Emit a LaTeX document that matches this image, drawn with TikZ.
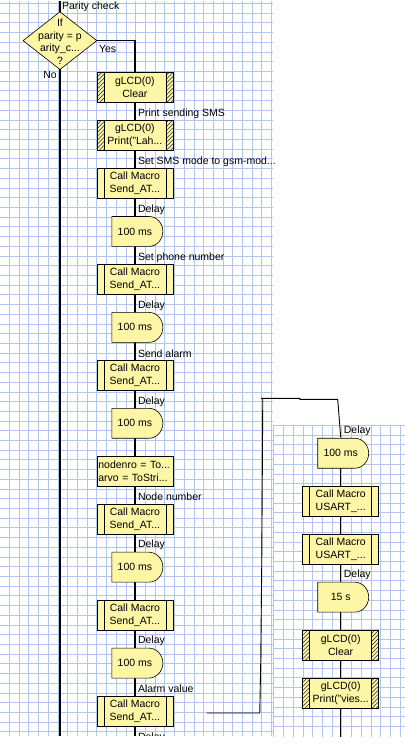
\documentclass[tikz,border=0pt]{standalone}
\usepackage{fontspec}
\setmainfont{Liberation Sans}
\usetikzlibrary{shapes.geometric,patterns.meta}
\pgfdeclarelayer{gridlayer}
\pgfdeclarelayer{linelayer}
\pgfsetlayers{gridlayer,linelayer,main}
\definecolor{boxyel}{RGB}{252,246,166}
\definecolor{gridblue}{RGB}{178,196,240}
\tikzset{
  hatchstrip/.style={pattern={Lines[angle=45,distance=2.8pt,line width=0.5pt]},pattern color=black!85},
}
\begin{document}
\begin{tikzpicture}[x=1pt,y=-1pt,
  every node/.style={font=\fontsize{10.5}{13}\selectfont, inner sep=0pt},
  lbl/.style={anchor=west},
  flow/.style={line width=1.3pt, black},
  hand/.style={line width=0.9pt, black},
  gridline/.style={line width=0.6pt, gridblue},
  basebox/.style={rectangle, draw=black, fill=boxyel, line width=0.6pt,
     minimum width=76pt, minimum height=30pt, align=center},
  macrobox/.style={basebox,
     path picture={
       \draw[line width=0.6pt] ([shift={(7,0)}]path picture bounding box.north west) -- ([shift={(7,0)}]path picture bounding box.south west);
       \draw[line width=0.6pt] ([shift={(-7,0)}]path picture bounding box.north east) -- ([shift={(-7,0)}]path picture bounding box.south east);}},
  lcdbox/.style={basebox,
     path picture={
       \fill[hatchstrip] (path picture bounding box.north west) rectangle ([shift={(7,0)}]path picture bounding box.south west);
       \fill[hatchstrip] (path picture bounding box.north east) rectangle ([shift={(-7,0)}]path picture bounding box.south east);
       \draw[line width=0.6pt] ([shift={(7,0)}]path picture bounding box.north west) -- ([shift={(7,0)}]path picture bounding box.south west);
       \draw[line width=0.6pt] ([shift={(-7,0)}]path picture bounding box.north east) -- ([shift={(-7,0)}]path picture bounding box.south east);}},
  calcbox/.style={basebox, align=left, text width=73pt},
  delaybox/.style={rectangle, minimum width=58pt, minimum height=32pt, align=center,
     path picture={
       \filldraw[fill=boxyel, draw=black, line width=0.6pt]
         ([shift={(-23,-15)}]path picture bounding box.center) -- ++(37,0)
         arc[start angle=-90, end angle=90, x radius=14, y radius=15]
         -- ++(-37,0) -- cycle;}},
  decision/.style={diamond, draw=black, fill=boxyel, line width=0.6pt,
     minimum width=74pt, minimum height=58pt, inner sep=0pt},
]
% ---------- background and grids ----------
\begin{pgfonlayer}{gridlayer}
  \fill[white] (0,0) rectangle (405,744);
  \useasboundingbox (0,0) rectangle (405,744);
  \foreach \i in {0,...,27} {\draw[gridline] ({9.3+9.72*\i},0) -- ({9.3+9.72*\i},736);}
  \foreach \j in {0,...,75} {\draw[gridline] (0,{2.7+9.72*\j}) -- (273,{2.7+9.72*\j});}
  \foreach \i in {0,...,13} {\draw[gridline] ({274+9.72*\i},425) -- ({274+9.72*\i},737);}
  \foreach \j in {0,...,31} {\draw[gridline] (273,{425+9.72*\j}) -- (405,{425+9.72*\j});}
\end{pgfonlayer}

% ---------- decision ----------
\node[decision] (dec) at (60,40) {};
\node[align=center, font=\fontsize{10.5}{12.7}\selectfont] (dectext) at (60,41) {If\\parity = p\\arity\_c...\\?};
\node[lbl] (lpar) at (62,6) {Parity check};
\node[lbl] (lyes) at (99,48) {Yes};
\node[anchor=east] (lno) at (57,74) {No};
\coordinate (topin) at (60,0);
\coordinate (bottomout) at (60,736);

% ---------- left column ----------
\node[lcdbox]   (g1) at (135,87)  {gLCD(0)\\Clear};
\node[lcdbox]   (g2) at (135,135) {gLCD(0)\\Print("Lah...};
\node[macrobox] (m1) at (135,183) {Call Macro\\Send\_AT...};
\node[delaybox] (d1) at (135,231) {100 ms};
\node[macrobox] (m2) at (135,279) {Call Macro\\Send\_AT...};
\node[delaybox] (d2) at (135,327) {100 ms};
\node[macrobox] (m3) at (135,375) {Call Macro\\Send\_AT...};
\node[delaybox] (d3) at (135,423) {100 ms};
\node[calcbox]  (c1) at (135,471) {nodenro = To...\\arvo = ToStri...};
\node[macrobox] (m4) at (135,519) {Call Macro\\Send\_AT...};
\node[delaybox] (d4) at (135,567) {100 ms};
\node[macrobox] (m5) at (135,615) {Call Macro\\Send\_AT...};
\node[delaybox] (d5) at (135,663) {100 ms};
\node[macrobox] (m6) at (135,711) {Call Macro\\Send\_AT...};
\coordinate (leftend) at (135,736);

\node[lbl] (l1)  at (138,113) {Print sending SMS};
\node[lbl] (l2)  at (138,161) {Set SMS mode to gsm-mod...};
\node[lbl] (l3)  at (138,209) {Delay};
\node[lbl] (l4)  at (138,257) {Set phone number};
\node[lbl] (l5)  at (138,305) {Delay};
\node[lbl] (l6)  at (138,353) {Send alarm};
\node[lbl] (l7)  at (138,401) {Delay};
\node[lbl] (l8)  at (138,497) {Node number};
\node[lbl] (l9)  at (138,545) {Delay};
\node[lbl] (l10) at (138,641) {Delay};
\node[lbl] (l11) at (138,689) {Alarm value};
\begin{scope}
  \clip (0,0) rectangle (273,735.5);
  \node[lbl] (l12) at (138,738) {Delay};
\end{scope}

% ---------- right column ----------
\node[delaybox] (rd1) at (341,453) {100 ms};
\node[macrobox] (rm1) at (341,501) {Call Macro\\USART\_...};
\node[macrobox] (rm2) at (341,549) {Call Macro\\USART\_...};
\node[delaybox] (rd2) at (341,597) {15 s};
\node[lcdbox]   (rg1) at (341,645) {gLCD(0)\\Clear};
\node[lcdbox]   (rg2) at (341,693) {gLCD(0)\\Print("vies...};
\coordinate (rightend) at (341,737);
\node[lbl] (rl1) at (344,431) {Delay};
\node[lbl] (rl2) at (344,575) {Delay};

% ---------- connectors ----------
\begin{pgfonlayer}{linelayer}
  \draw[flow] (topin) -- (dec.center) -- (bottomout);
  \draw[flow] (dec.center) -- (dec.center -| g1.center) -- (g1.center);
  \draw[flow] (g1.center) -- (g2.center) -- (m1.center) -- (d1.center) -- (m2.center)
    -- (d2.center) -- (m3.center) -- (d3.center) -- (c1.center) -- (m4.center)
    -- (d4.center) -- (m5.center) -- (d5.center) -- (m6.center) -- (leftend);
  \draw[flow] (rd1.center) -- (rm1.center) -- (rm2.center) -- (rd2.center)
    -- (rg1.center) -- (rg2.center) -- (rightend);
\end{pgfonlayer}

% ---------- hand-drawn annotation lines ----------
\coordinate (h1) at (261,398);
\coordinate (h2) at (300,398);
\coordinate (h3) at (300,399);
\coordinate (h4) at (338,399);
\coordinate (v1) at (263,398);
\coordinate (v2) at (262,560);
\coordinate (v3) at (261,660);
\coordinate (v4) at (260,713);
\coordinate (v5) at (207,713);
\draw[hand] (h1) -- (h2) -- (h3) -- (h4) -- (rd1.north);
\draw[hand] (v1) -- (v2) -- (v3) -- (v4) -- (v5);
\end{tikzpicture}
\end{document}
